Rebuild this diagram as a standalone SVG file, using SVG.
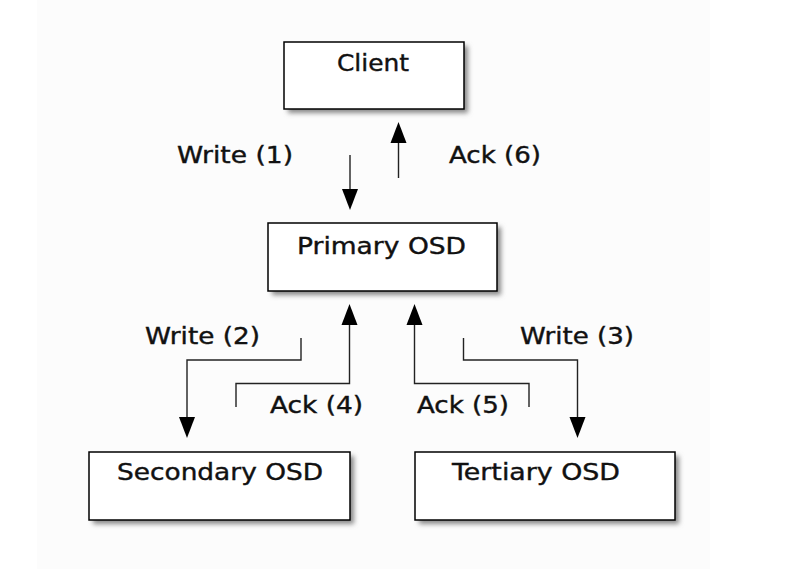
<svg xmlns="http://www.w3.org/2000/svg" width="800" height="569" viewBox="0 0 800 569">
<defs>
<filter id="sh" x="-10%" y="-20%" width="130%" height="150%">
<feGaussianBlur stdDeviation="2.5"/>
</filter>
<style>
.box{fill:#fff;stroke:#000;stroke-width:1.5}
.shadow{fill:#888;filter:url(#sh)}
.t{font-family:"DejaVu Sans",sans-serif;font-size:23px;fill:#111;stroke:#111;stroke-width:0.4}
.c{fill:none;stroke:#222;stroke-width:1.4}
.ah{fill:#000}
</style>
</defs>
<rect x="0" y="0" width="800" height="569" fill="#fff"/>
<rect x="37" y="0" width="673" height="569" fill="#fcfcfc"/>
<g id="client">
<rect class="shadow" x="288" y="46" width="180" height="67"/>
<rect class="box" x="284" y="42" width="180" height="67"/>
<text class="t" x="337" y="71" textLength="72" lengthAdjust="spacingAndGlyphs">Client</text>
</g>
<g id="primary">
<rect class="shadow" x="272" y="227" width="229" height="68"/>
<rect class="box" x="268" y="223" width="229" height="68"/>
<text class="t" x="297" y="254" textLength="169" lengthAdjust="spacingAndGlyphs">Primary OSD</text>
</g>
<g id="secondary">
<rect class="shadow" x="93" y="456" width="261" height="68"/>
<rect class="box" x="89" y="452" width="261" height="68"/>
<text class="t" x="117" y="480" textLength="206" lengthAdjust="spacingAndGlyphs">Secondary OSD</text>
</g>
<g id="tertiary">
<rect class="shadow" x="419" y="456" width="260" height="68"/>
<rect class="box" x="415" y="452" width="260" height="68"/>
<text class="t" x="452" y="480" textLength="168" lengthAdjust="spacingAndGlyphs">Tertiary OSD</text>
</g>
<g id="connectors">
<path class="c" d="M350 155 V192"/>
<polygon class="ah" points="342,189 358,189 350,210"/>
<path class="c" d="M398.5 178 V140"/>
<polygon class="ah" points="390.5,143 406.5,143 398.5,122"/>
<path class="c" d="M301 338 V360 H187 V420"/>
<polygon class="ah" points="179,417 195,417 187,438"/>
<path class="c" d="M236 407 V383.5 H349.5 V322"/>
<polygon class="ah" points="341.5,325 357.5,325 349.5,304"/>
<path class="c" d="M529 407 V383.5 H414.5 V322"/>
<polygon class="ah" points="406.5,325 422.5,325 414.5,304"/>
<path class="c" d="M463.5 338 V360 H577.5 V420"/>
<polygon class="ah" points="569.5,417 585.5,417 577.5,438"/>
</g>
<g id="labels">
<text class="t" x="177" y="163" textLength="116" lengthAdjust="spacingAndGlyphs">Write (1)</text>
<text class="t" x="449" y="163" textLength="92" lengthAdjust="spacingAndGlyphs">Ack (6)</text>
<text class="t" x="145" y="344" textLength="115" lengthAdjust="spacingAndGlyphs">Write (2)</text>
<text class="t" x="520" y="344" textLength="114" lengthAdjust="spacingAndGlyphs">Write (3)</text>
<text class="t" x="270" y="413" textLength="93" lengthAdjust="spacingAndGlyphs">Ack (4)</text>
<text class="t" x="417" y="413" textLength="92" lengthAdjust="spacingAndGlyphs">Ack (5)</text>
</g>
</svg>
